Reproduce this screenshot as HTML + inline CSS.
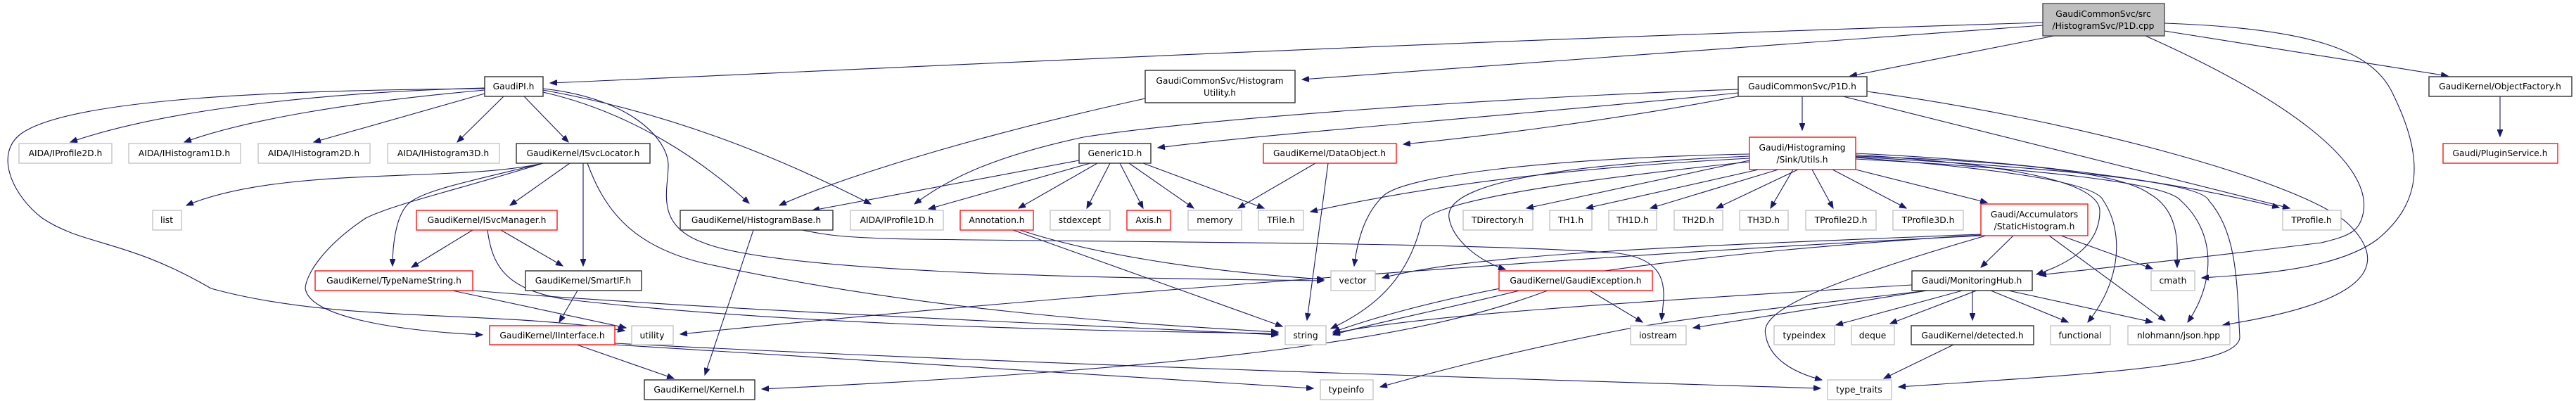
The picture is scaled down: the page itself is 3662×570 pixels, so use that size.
<!DOCTYPE html>
<html><head><meta charset="utf-8"><style>
html,body{margin:0;padding:0;background:#fff;}
svg{display:block;}
text{font-family:"DejaVu Sans","Liberation Sans",sans-serif;font-size:12.3px;fill:#000;text-anchor:middle;}
.e{fill:none;stroke:#191970;stroke-width:1.1;marker-end:url(#a);}
.k{fill:#fff;stroke:#303030;stroke-width:1.4;}
.g{fill:#fff;stroke:#bfbfbf;stroke-width:1.3;}
.r{fill:#fff;stroke:#ff0000;stroke-width:1.3;}
.s{fill:#bfbfbf;stroke:#404040;stroke-width:1.3;}
</style></head><body>
<svg width="3662" height="570" viewBox="0 0 3662 570" xmlns="http://www.w3.org/2000/svg">
<defs><marker id="a" markerUnits="userSpaceOnUse" markerWidth="11" markerHeight="8" refX="10" refY="4" orient="auto"><path d="M0,0 L10,4 L0,8 z" fill="#191970" stroke="#191970"/></marker></defs>
<g>
<path class="e" d="M2904,32 C2000,60 1200,100 782,118"/>
<path class="e" d="M2904,36 L1851,113"/>
<path class="e" d="M2920,51 L2630,108"/>
<path class="e" d="M3077,44 L3480,108"/>
<path class="e" d="M3050,51 C3250,140 3370,230 3360,300 C3355,330 3340,335 3300,345 C3100,370 2950,385 2899,391"/>
<path class="e" d="M3077,33 C3280,40 3370,70 3400,130 C3450,230 3440,290 3380,340 C3320,385 3200,390 3130,395"/>
<path class="e" d="M2562,137 L2562,185"/>
<path class="e" d="M2471,132 C2200,160 1800,190 1646,210"/>
<path class="e" d="M2471,127 C2100,140 1700,170 1540,195 C1400,225 1340,260 1300,290"/>
<path class="e" d="M2471,137 C2300,170 2100,195 1995,205"/>
<path class="e" d="M2620,137 L3255,296"/>
<path class="e" d="M2654,130 C2950,170 3280,260 3340,320 C3420,400 3300,440 3160,462"/>
<path class="e" d="M3554,137 L3554,194"/>
<path class="e" d="M689,125 C500,130 250,150 100,202"/>
<path class="e" d="M689,128 C500,145 350,170 262,202"/>
<path class="e" d="M689,133 L446,202"/>
<path class="e" d="M716,137 L650,202"/>
<path class="e" d="M745,137 L808,202"/>
<path class="e" d="M772,131 C900,160 1000,230 1065,289"/>
<path class="e" d="M772,128 C950,160 1100,220 1238,290"/>
<path class="e" d="M772,126 C900,140 950,200 950,235 C950,270 930,320 1000,345 C1100,385 1500,395 1882,399"/>
<path class="e" d="M689,126 C400,128 100,140 30,190 C-10,220 20,280 60,310 C120,350 180,340 300,410 C480,460 700,440 888,470"/>
<path class="e" d="M772,232 C650,260 400,235 265,292"/>
<path class="e" d="M772,232 C680,255 600,270 580,290 C560,310 558,360 558,378"/>
<path class="e" d="M772,232 C650,270 560,290 520,310 C460,350 435,390 434,410 C440,450 560,470 686,476"/>
<path class="e" d="M810,232 L725,292"/>
<path class="e" d="M829,232 L829,378"/>
<path class="e" d="M835,232 C860,300 900,350 1000,374 C1300,440 1600,460 1817,472"/>
<path class="e" d="M672,327 L585,380"/>
<path class="e" d="M712,327 L800,378"/>
<path class="e" d="M693,327 C700,380 720,410 800,425 C1100,460 1500,470 1817,474"/>
<path class="e" d="M643,413 L890,466"/>
<path class="e" d="M672,413 C1000,440 1500,460 1817,476"/>
<path class="e" d="M821,413 L795,458"/>
<path class="e" d="M820,490 L958,538"/>
<path class="e" d="M874,490 L1867,552"/>
<path class="e" d="M874,488 C1500,520 2200,540 2588,552"/>
<path class="e" d="M1071,327 L1002,533"/>
<path class="e" d="M1140,327 C1180,335 1200,338 1300,340 C1700,345 2100,345 2300,360 C2380,370 2365,420 2362,455"/>
<path class="e" d="M1628,140 C1400,190 1200,250 1108,292"/>
<path class="e" d="M1534,228 L1155,299"/>
<path class="e" d="M1550,232 L1320,297"/>
<path class="e" d="M1560,232 L1448,296"/>
<path class="e" d="M1578,232 L1545,296"/>
<path class="e" d="M1592,232 L1625,296"/>
<path class="e" d="M1605,232 L1697,296"/>
<path class="e" d="M1625,232 L1797,296"/>
<path class="e" d="M1870,232 L1760,296"/>
<path class="e" d="M1888,232 L1858,455"/>
<path class="e" d="M1450,327 C1550,360 1700,385 1882,397"/>
<path class="e" d="M1440,327 L1823,464"/>
<path class="e" d="M2487,228 L2170,296"/>
<path class="e" d="M2500,241 L2255,296"/>
<path class="e" d="M2528,241 L2346,296"/>
<path class="e" d="M2556,241 L2440,296"/>
<path class="e" d="M2549,241 L2517,296"/>
<path class="e" d="M2576,241 L2606,296"/>
<path class="e" d="M2605,241 L2710,296"/>
<path class="e" d="M2638,241 L2825,288"/>
<path class="e" d="M2487,222 C2300,230 2050,250 2060,310 C2065,340 2100,370 2140,383"/>
<path class="e" d="M2487,225 C2200,240 2000,270 1863,301"/>
<path class="e" d="M2487,219 C2200,225 1990,250 1965,280 C1940,305 1930,340 1925,378"/>
<path class="e" d="M2487,230 C2200,260 2020,290 2020,320 C2000,400 1950,440 1892,467"/>
<path class="e" d="M2638,220 C2800,230 2985,250 2985,300 C2985,350 2940,375 2895,390"/>
<path class="e" d="M2638,222 C2900,230 3020,250 3055,275 C3100,300 3095,350 3095,380"/>
<path class="e" d="M2638,224 C2850,240 2980,260 2990,285 C3020,330 3015,400 2968,458"/>
<path class="e" d="M2638,226 C2900,240 3080,260 3100,285 C3150,330 3150,400 3110,458"/>
<path class="e" d="M2638,223 C2950,240 3130,260 3140,285 C3180,330 3180,400 3184,480 C3180,520 3000,530 2699,550"/>
<path class="e" d="M2638,218 C2900,230 3100,260 3240,295"/>
<path class="e" d="M2862,335 L2816,380"/>
<path class="e" d="M2930,335 L3060,382"/>
<path class="e" d="M2913,335 L3078,456"/>
<path class="e" d="M2816,333 C2400,350 2100,360 1965,395"/>
<path class="e" d="M2816,334 C2400,360 2100,400 1895,472"/>
<path class="e" d="M2816,335 C2300,360 1500,420 967,475"/>
<path class="e" d="M2823,335 C2600,400 2500,440 2510,476 C2515,510 2550,530 2590,540"/>
<path class="e" d="M2718,405 C2300,430 2000,450 1895,474"/>
<path class="e" d="M2740,413 L2407,466"/>
<path class="e" d="M2790,413 L2610,462"/>
<path class="e" d="M2810,413 L2687,460"/>
<path class="e" d="M2804,413 L2804,455"/>
<path class="e" d="M2830,413 L2940,458"/>
<path class="e" d="M2855,413 L3060,458"/>
<path class="e" d="M2740,413 C2600,430 2400,450 2300,470 C2100,510 2000,540 1962,550"/>
<path class="e" d="M2777,490 L2678,538"/>
<path class="e" d="M2160,413 C2050,440 1950,460 1895,476"/>
<path class="e" d="M2260,413 L2335,458"/>
<path class="e" d="M2200,413 C2050,470 1800,520 1083,553"/>
</g>
<g>
<rect class="s" x="2904" y="5" width="173" height="46"/><text x="2990" y="24">GaudiCommonSvc/src</text><text x="2990" y="41">/HistogramSvc/P1D.cpp</text>
<rect class="k" x="689" y="109" width="83" height="28"/><text x="730" y="127">GaudiPI.h</text>
<rect class="k" x="1628" y="100" width="213" height="46"/><text x="1734" y="119">GaudiCommonSvc/Histogram</text><text x="1734" y="136">Utility.h</text>
<rect class="k" x="2471" y="109" width="183" height="28"/><text x="2562" y="127">GaudiCommonSvc/P1D.h</text>
<rect class="k" x="3453" y="109" width="203" height="28"/><text x="3554" y="127">GaudiKernel/ObjectFactory.h</text>
<rect class="g" x="27" y="204" width="132" height="28"/><text x="93" y="222">AIDA/IProfile2D.h</text>
<rect class="g" x="183" y="204" width="159" height="28"/><text x="262" y="222">AIDA/IHistogram1D.h</text>
<rect class="g" x="367" y="204" width="159" height="28"/><text x="446" y="222">AIDA/IHistogram2D.h</text>
<rect class="g" x="551" y="204" width="159" height="28"/><text x="630" y="222">AIDA/IHistogram3D.h</text>
<rect class="k" x="734" y="204" width="190" height="28"/><text x="829" y="222">GaudiKernel/ISvcLocator.h</text>
<rect class="k" x="1534" y="204" width="102" height="28"/><text x="1585" y="222">Generic1D.h</text>
<rect class="r" x="1796" y="204" width="189" height="28"/><text x="1890" y="222">GaudiKernel/DataObject.h</text>
<rect class="r" x="2487" y="195" width="151" height="46"/><text x="2562" y="214">Gaudi/Histograming</text><text x="2562" y="231">/Sink/Utils.h</text>
<rect class="r" x="3473" y="204" width="163" height="28"/><text x="3554" y="222">Gaudi/PluginService.h</text>
<rect class="g" x="217" y="299" width="41" height="28"/><text x="237" y="317">list</text>
<rect class="r" x="592" y="299" width="200" height="28"/><text x="692" y="317">GaudiKernel/ISvcManager.h</text>
<rect class="k" x="967" y="299" width="217" height="28"/><text x="1075" y="317">GaudiKernel/HistogramBase.h</text>
<rect class="g" x="1209" y="299" width="132" height="28"/><text x="1275" y="317">AIDA/IProfile1D.h</text>
<rect class="r" x="1365" y="299" width="104" height="28"/><text x="1417" y="317">Annotation.h</text>
<rect class="g" x="1493" y="299" width="85" height="28"/><text x="1535" y="317">stdexcept</text>
<rect class="r" x="1602" y="299" width="62" height="28"/><text x="1633" y="317">Axis.h</text>
<rect class="g" x="1689" y="299" width="76" height="28"/><text x="1727" y="317">memory</text>
<rect class="g" x="1789" y="299" width="64" height="28"/><text x="1821" y="317">TFile.h</text>
<rect class="g" x="2080" y="299" width="99" height="28"/><text x="2129" y="317">TDirectory.h</text>
<rect class="g" x="2203" y="299" width="60" height="28"/><text x="2233" y="317">TH1.h</text>
<rect class="g" x="2287" y="299" width="68" height="28"/><text x="2321" y="317">TH1D.h</text>
<rect class="g" x="2380" y="299" width="69" height="28"/><text x="2414" y="317">TH2D.h</text>
<rect class="g" x="2473" y="299" width="69" height="28"/><text x="2507" y="317">TH3D.h</text>
<rect class="g" x="2567" y="299" width="100" height="28"/><text x="2617" y="317">TProfile2D.h</text>
<rect class="g" x="2691" y="299" width="100" height="28"/><text x="2741" y="317">TProfile3D.h</text>
<rect class="r" x="2816" y="290" width="152" height="45"/><text x="2892" y="309">Gaudi/Accumulators</text><text x="2892" y="326">/StaticHistogram.h</text>
<rect class="g" x="3245" y="299" width="83" height="28"/><text x="3286" y="317">TProfile.h</text>
<rect class="r" x="448" y="385" width="224" height="28"/><text x="560" y="403">GaudiKernel/TypeNameString.h</text>
<rect class="k" x="747" y="385" width="165" height="28"/><text x="829" y="403">GaudiKernel/SmartIF.h</text>
<rect class="g" x="1892" y="385" width="63" height="28"/><text x="1923" y="403">vector</text>
<rect class="r" x="2131" y="385" width="218" height="28"/><text x="2240" y="403">GaudiKernel/GaudiException.h</text>
<rect class="k" x="2718" y="385" width="171" height="28"/><text x="2803" y="403">Gaudi/MonitoringHub.h</text>
<rect class="g" x="3058" y="385" width="62" height="28"/><text x="3089" y="403">cmath</text>
<rect class="r" x="696" y="463" width="178" height="27"/><text x="785" y="481">GaudiKernel/IInterface.h</text>
<rect class="g" x="898" y="463" width="59" height="27"/><text x="927" y="481">utility</text>
<rect class="g" x="1827" y="463" width="58" height="27"/><text x="1856" y="481">string</text>
<rect class="g" x="2318" y="463" width="79" height="27"/><text x="2357" y="481">iostream</text>
<rect class="g" x="2522" y="463" width="86" height="27"/><text x="2565" y="481">typeindex</text>
<rect class="g" x="2632" y="463" width="61" height="27"/><text x="2662" y="481">deque</text>
<rect class="k" x="2717" y="463" width="174" height="27"/><text x="2804" y="481">GaudiKernel/detected.h</text>
<rect class="g" x="2915" y="463" width="85" height="27"/><text x="2957" y="481">functional</text>
<rect class="g" x="3025" y="463" width="145" height="27"/><text x="3097" y="481">nlohmann/json.hpp</text>
<rect class="k" x="916" y="540" width="157" height="28"/><text x="994" y="558">GaudiKernel/Kernel.h</text>
<rect class="g" x="1877" y="540" width="75" height="28"/><text x="1914" y="558">typeinfo</text>
<rect class="g" x="2598" y="540" width="91" height="28"/><text x="2643" y="558">type_traits</text>
</g>
</svg>
</body></html>
